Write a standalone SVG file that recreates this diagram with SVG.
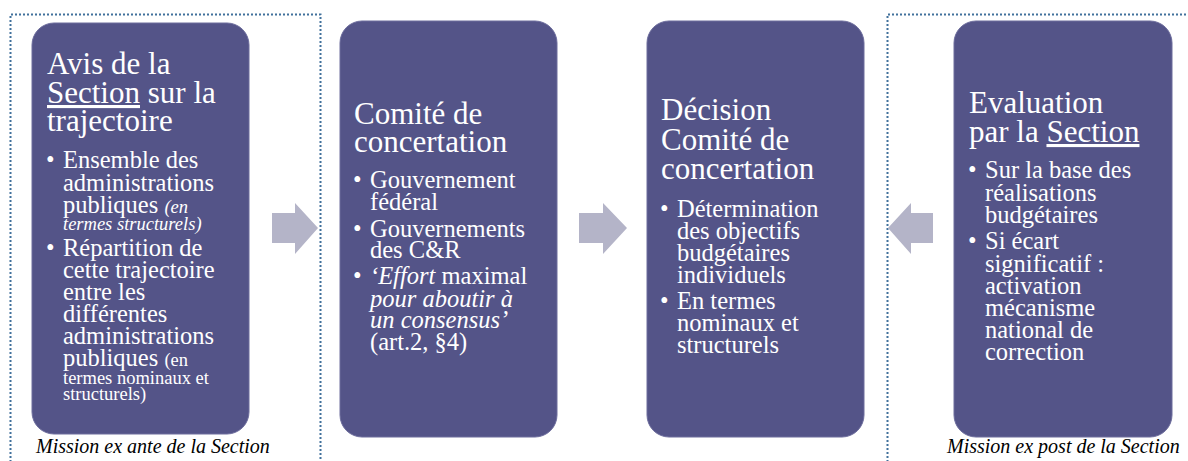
<svg xmlns="http://www.w3.org/2000/svg" width="1188" height="461" viewBox="0 0 1188 461">
  <style>
    .box { fill: #545488; stroke: #6c6c9c; stroke-width: 1; }
    .frame { fill: none; stroke: #41719c; stroke-width: 2; stroke-dasharray: 2 2; }
    .arrow { fill: #b4b4c8; }
    text { font-family: "Liberation Serif", "Times New Roman", serif; fill: #ffffff; }
    .title { font-size: 31px; }
    .item { font-size: 24.5px; }
    .small { font-size: 18.5px; }
    .it { font-style: italic; }
    .u { text-decoration: underline; }
    .caption { font-size: 20px; font-style: italic; fill: #000000; }
  </style>

  <!-- dotted frames around the Section's missions -->
  <g id="frames">
    <path class="frame" d="M10.5,470 V14.5 H320.5 V470"/>
    <path class="frame" d="M887.5,470 V14.5 H1195"/>
  </g>

  <!-- arrows between the stages -->
  <g id="connectors">
    <polygon class="arrow" points="272,213 295,213 295,203 318,228 295,254 295,243 272,243"/>
    <polygon class="arrow" points="579,213 603,213 603,203 627,228 603,254 603,243 579,243"/>
    <polygon class="arrow" points="933,213 911,213 911,203 888,228 911,254 911,243 933,243"/>
  </g>

  <g id="avis-section">
    <rect class="box" x="32" y="23" width="217" height="411" rx="22"/>
    <text class="title" x="47" y="74">Avis de la</text>
    <text class="title" x="47" y="103"><tspan class="u">Section</tspan> sur la</text>
    <text class="title" x="47" y="131">trajectoire</text>
    <text class="item" x="46" y="168">•</text>
    <text class="item" x="63" y="168">Ensemble des</text>
    <text class="item" x="63" y="191">administrations</text>
    <text class="item" x="63" y="213">publiques <tspan class="small it">(en</tspan></text>
    <text class="small it" x="63" y="230">termes structurels)</text>
    <text class="item" x="46" y="256">•</text>
    <text class="item" x="63" y="256">Répartition de</text>
    <text class="item" x="63" y="278">cette trajectoire</text>
    <text class="item" x="63" y="300">entre les</text>
    <text class="item" x="63" y="322">différentes</text>
    <text class="item" x="63" y="344">administrations</text>
    <text class="item" x="63" y="366">publiques <tspan class="small">(en</tspan></text>
    <text class="small" x="63" y="384">termes nominaux et</text>
    <text class="small" x="63" y="400">structurels)</text>
    <text class="caption" x="36" y="453">Mission ex ante de la Section</text>
  </g>

  <g id="comite-concertation">
    <rect class="box" x="340" y="21" width="217" height="416" rx="22"/>
    <text class="title" x="354" y="124">Comité de</text>
    <text class="title" x="354" y="152">concertation</text>
    <text class="item" x="353" y="188">•</text>
    <text class="item" x="370" y="188">Gouvernement</text>
    <text class="item" x="370" y="210">fédéral</text>
    <text class="item" x="353" y="237">•</text>
    <text class="item" x="370" y="237">Gouvernements</text>
    <text class="item" x="370" y="258">des C&amp;R</text>
    <text class="item" x="353" y="284">•</text>
    <text class="item" x="370" y="284"><tspan class="it">‘Effort</tspan> maximal</text>
    <text class="item it" x="370" y="307">pour aboutir à</text>
    <text class="item it" x="370" y="328">un consensus’</text>
    <text class="item" x="370" y="350">(art.2, §4)</text>
  </g>

  <g id="decision-comite">
    <rect class="box" x="647" y="21" width="217" height="416" rx="22"/>
    <text class="title" x="661" y="120">Décision</text>
    <text class="title" x="661" y="150">Comité de</text>
    <text class="title" x="661" y="179">concertation</text>
    <text class="item" x="660" y="217">•</text>
    <text class="item" x="677" y="217">Détermination</text>
    <text class="item" x="677" y="239">des objectifs</text>
    <text class="item" x="677" y="261">budgétaires</text>
    <text class="item" x="677" y="283">individuels</text>
    <text class="item" x="660" y="309">•</text>
    <text class="item" x="677" y="309">En termes</text>
    <text class="item" x="677" y="331">nominaux et</text>
    <text class="item" x="677" y="353">structurels</text>
  </g>

  <g id="evaluation-section">
    <rect class="box" x="954" y="21" width="218" height="416" rx="22"/>
    <text class="title" x="969" y="113">Evaluation</text>
    <text class="title" x="969" y="142">par la <tspan class="u">Section</tspan></text>
    <text class="item" x="968" y="178">•</text>
    <text class="item" x="985" y="178">Sur la base des</text>
    <text class="item" x="985" y="201">réalisations</text>
    <text class="item" x="985" y="223">budgétaires</text>
    <text class="item" x="968" y="249">•</text>
    <text class="item" x="985" y="249">Si écart</text>
    <text class="item" x="985" y="272">significatif :</text>
    <text class="item" x="985" y="294">activation</text>
    <text class="item" x="985" y="316">mécanisme</text>
    <text class="item" x="985" y="338">national de</text>
    <text class="item" x="985" y="360">correction</text>
    <text class="caption" x="947" y="453">Mission ex post de la Section</text>
  </g>
</svg>
